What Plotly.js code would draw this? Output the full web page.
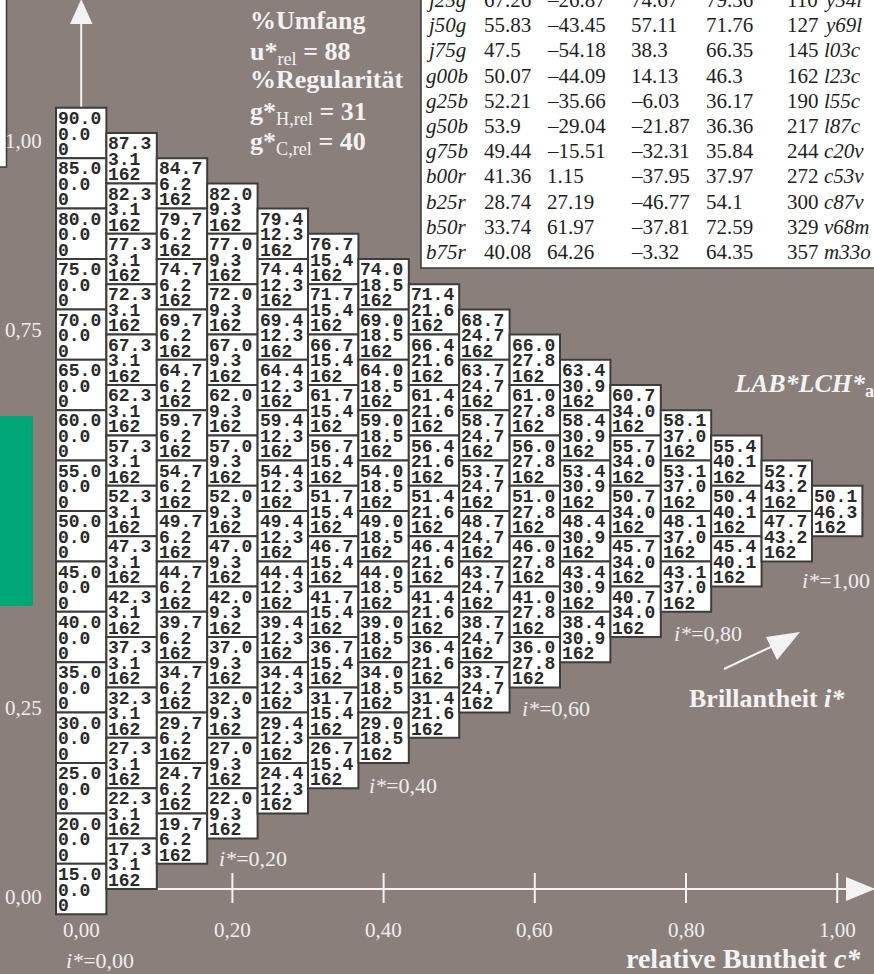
<!DOCTYPE html>
<html><head><meta charset="utf-8">
<script src="https://cdn.plot.ly/plotly-3.0.1.min.js"></script>
<style>html,body{margin:0;padding:0;background:#8b7f7c;}#chart{width:874px;height:974px;}</style>
</head><body><div id="chart"></div>
<script>
// ---------------- data ----------------
const columnChroma = ['0.0','3.1','6.2','9.3','12.3','15.4','18.5','21.6','24.7','27.8','30.9','34.0','37.0','40.1','43.2','46.3'];
const columnHue = ['0','162','162','162','162','162','162','162','162','162','162','162','162','162','162','162'];
const lightnessByColumn = [
  ['90.0','85.0','80.0','75.0','70.0','65.0','60.0','55.0','50.0','45.0','40.0','35.0','30.0','25.0','20.0','15.0'],
  ['87.3','82.3','77.3','72.3','67.3','62.3','57.3','52.3','47.3','42.3','37.3','32.3','27.3','22.3','17.3'],
  ['84.7','79.7','74.7','69.7','64.7','59.7','54.7','49.7','44.7','39.7','34.7','29.7','24.7','19.7'],
  ['82.0','77.0','72.0','67.0','62.0','57.0','52.0','47.0','42.0','37.0','32.0','27.0','22.0'],
  ['79.4','74.4','69.4','64.4','59.4','54.4','49.4','44.4','39.4','34.4','29.4','24.4'],
  ['76.7','71.7','66.7','61.7','56.7','51.7','46.7','41.7','36.7','31.7','26.7'],
  ['74.0','69.0','64.0','59.0','54.0','49.0','44.0','39.0','34.0','29.0'],
  ['71.4','66.4','61.4','56.4','51.4','46.4','41.4','36.4','31.4'],
  ['68.7','63.7','58.7','53.7','48.7','43.7','38.7','33.7'],
  ['66.0','61.0','56.0','51.0','46.0','41.0','36.0'],
  ['63.4','58.4','53.4','48.4','43.4','38.4'],
  ['60.7','55.7','50.7','45.7','40.7'],
  ['58.1','53.1','48.1','43.1'],
  ['55.4','50.4','45.4'],
  ['52.7','47.7'],
  ['50.1']
];
const xTickValues = [0, 0.2, 0.4, 0.6, 0.8, 1.0];
const xTickLabels = ['0,00','0,20','0,40','0,60','0,80','1,00'];
const yTickValues = [1.0, 0.75, 0.25, 0.0];
const yTickLabels = ['1,00','0,75','0,25','0,00'];
const brillanceLabels = ['0,00','0,20','0,40','0,60','0,80','1,00'];

const tableNames = ['j25g','j50g','j75g','g00b','g25b','g50b','g75b','b00r','b25r','b50r','b75r'];
const tableL = ['67.26','55.83','47.5','50.07','52.21','53.9','49.44','41.36','28.74','33.74','40.08'];
const tableA = ['\u201326.87','\u201343.45','\u201354.18','\u201344.09','\u201335.66','\u201329.04','\u201315.51','1.15','27.19','61.97','64.26'];
const tableB = ['74.67','57.11','38.3','14.13','\u20136.03','\u201321.87','\u201332.31','\u201337.95','\u201346.77','\u201337.81','\u20133.32'];
const tableC = ['79.36','71.76','66.35','46.3','36.17','36.36','35.84','37.97','54.1','72.59','64.35'];
const tableH = ['110','127','145','162','190','217','244','272','300','329','357'];
const tableCode = ['y54l','y69l','l03c','l23c','l55c','l87c','c20v','c53v','c87v','v68m','m33o'];

// ---------------- layout helpers (pixel -> axis units for decorations) ----------------
const BG = '#8b7f7c';
const FG = '#f3f3f3';
const X = p => (p - 81.2) / 756;
const Y = p => (889 - p) / 756;
const PY = p => 1 - p / 974;
const SERIF = 'Liberation Serif, Times New Roman, serif';
const MONO = 'Liberation Mono, Courier New, monospace';

const shapes = [];
const annotations = [];
const nCols = lightnessByColumn.length;
const cw = 1 / (nCols - 1);
const ch = cw;

shapes.push({type:'rect', xref:'x', yref:'y', x0:X(-10), x1:X(6.5), y0:Y(167), y1:Y(-10), fillcolor:'#ffffff', line:{color:'#3a3a3a', width:1.5}});
shapes.push({type:'rect', xref:'x', yref:'y', x0:X(421), x1:X(900), y0:Y(268), y1:Y(-10), fillcolor:'#ffffff', line:{color:'#3a3a3a', width:1.5}});
shapes.push({type:'rect', xref:'x', yref:'y', x0:X(-5), x1:X(33), y0:Y(606), y1:Y(416), fillcolor:'#00a878', line:{width:0}});

shapes.push({type:'line', xref:'x', yref:'y', x0:0, x1:X(848), y0:0, y1:0, line:{color:FG, width:2}});
xTickValues.slice(1).forEach(v => shapes.push({type:'line', xref:'x', yref:'y', x0:v, x1:v, y0:Y(903), y1:Y(873), line:{color:FG, width:2}}));
shapes.push({type:'path', xref:'x', yref:'y', path:`M ${X(875)} 0 L ${X(846)} ${Y(877)} L ${X(846)} ${Y(901)} Z`, fillcolor:FG, line:{width:0}});
shapes.push({type:'line', xref:'x', yref:'y', x0:0, x1:0, y0:1, y1:Y(22), line:{color:FG, width:2}});
shapes.push({type:'path', xref:'x', yref:'y', path:`M 0 ${Y(-1)} L ${X(70)} ${Y(24)} L ${X(92.5)} ${Y(24)} Z`, fillcolor:FG, line:{width:0}});
shapes.push({type:'line', xref:'x', yref:'y', x0:X(724), y0:Y(669), x1:X(775), y1:Y(645), line:{color:FG, width:2}});
shapes.push({type:'path', xref:'x', yref:'y', path:`M ${X(800)} ${Y(632)} L ${X(766)} ${Y(637)} L ${X(777)} ${Y(660)} Z`, fillcolor:FG, line:{width:0}});

const cellX = [], cellY = [];
lightnessByColumn.forEach((col, j) => {
  col.forEach((L, k) => {
    const cx = j * cw;
    const cy = 1 - j * ch / 2 - k * ch;
    cellX.push(cx); cellY.push(cy);
    shapes.push({type:'rect', xref:'x', yref:'y', x0:cx - cw/2, x1:cx + cw/2, y0:cy - ch/2, y1:cy + ch/2,
      fillcolor:'#ffffff', line:{color:'#3c3c3c', width:2}});
    const lines = [L, columnChroma[j], columnHue[j]];
    const shifts = [14, -1.5, -17];
    lines.forEach((t, i) => annotations.push({xref:'x', yref:'y', x:cx - cw/2, y:cy, xanchor:'left', yanchor:'middle',
      xshift:1, yshift:shifts[i], text:t, showarrow:false, borderpad:0,
      font:{family:MONO, size:18, color:'#2a2a2a', weight:'bold'}}));
  });
});

xTickValues.forEach((v, i) => annotations.push({xref:'x', yref:'y', x:v, y:Y(930), text:xTickLabels[i], showarrow:false,
  xanchor:'center', yanchor:'middle', font:{family:SERIF, size:21, color:'#eeeeee'}}));
yTickValues.forEach((v, i) => annotations.push({xref:'x', yref:'y', x:X(44), y:v, yshift:-8, text:yTickLabels[i], showarrow:false,
  xanchor:'right', yanchor:'middle', font:{family:SERIF, size:21, color:'#eeeeee'}}));

const brillPos = [[64,960],[217,858],[367,785],[520,708],[672,633],[800,580]];
brillanceLabels.forEach((t, i) => annotations.push({xref:'x', yref:'y', x:X(brillPos[i][0]), y:Y(brillPos[i][1]), text:'<i>i*</i>=' + t,
  showarrow:false, xanchor:'left', yanchor:'middle', font:{family:SERIF, size:22, color:'#eeeeee'}}));

const txt = (x, y, text, size, anchor) => annotations.push({xref:'x', yref:'y', x:X(x), y:Y(y), text, showarrow:false,
  xanchor:anchor || 'left', yanchor:'middle', font:{family:SERIF, size, color:FG}});
txt(687, 698, '<b>Brillantheit <i>i*</i></b>', 26);
txt(863, 958, '<b>relative Buntheit <i>c*</i></b>', 28, 'right');
txt(732, 385, '<b><i>LAB*LCH*</i><sub>ab</sub></b>', 26);
txt(248, 20, '<b>%Umfang</b>', 26);
txt(248, 53, '<b>u*</b><sub>rel</sub><b> = 88</b>', 26);
txt(248, 79, '<b>%Regularit\u00e4t</b>', 26);
txt(248, 113, '<b>g*</b><sub>H,rel</sub><b> = 31</b>', 26);
txt(248, 143, '<b>g*</b><sub>C,rel</sub><b> = 40</b>', 26);

const tableCols = [[425, tableNames, true],[483, tableL],[546, tableA],[630, tableB],[705, tableC],[786, tableH],[823, tableCode, true]];
tableNames.forEach((_, r) => {
  const yy = 0 + r * 25.2;
  tableCols.forEach(([x, arr, it]) => annotations.push({xref:'paper', yref:'paper', x:x / 874, y:PY(yy), text: it ? '<i>' + arr[r] + '</i>' : arr[r],
    showarrow:false, xanchor:'left', yanchor:'middle', borderpad:0, font:{family:SERIF, size:21, color:'#1e1e1e'}}));
});

const data = [{type:'scatter', mode:'markers', x:cellX, y:cellY, marker:{size:1, opacity:0}, hoverinfo:'skip', showlegend:false}];
const layout = {
  width:874, height:974, margin:{l:0, r:0, t:0, b:0},
  paper_bgcolor:BG, plot_bgcolor:BG, showlegend:false,
  xaxis:{range:[X(0), X(874)], visible:false, fixedrange:true},
  yaxis:{range:[Y(974), Y(0)], visible:false, fixedrange:true},
  shapes, annotations
};
Plotly.newPlot('chart', data, layout, {staticPlot:true, displayModeBar:false});
</script></body></html>
